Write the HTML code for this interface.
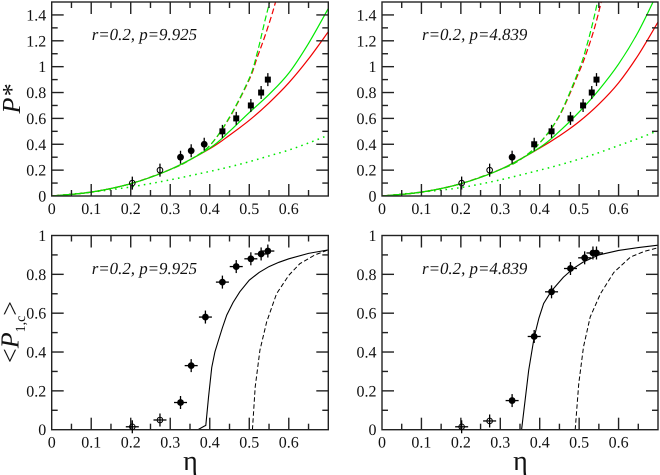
<!DOCTYPE html>
<html>
<head>
<meta charset="utf-8">
<style>
html,body{margin:0;padding:0;background:#fff;width:660px;height:475px;overflow:hidden}
svg{display:block;filter:blur(0.35px)}
text{font-family:"Liberation Serif",serif;fill:#111;text-rendering:geometricPrecision}
</style>
</head>
<body>
<svg id="chart" width="660" height="475" viewBox="0 0 660 475" xmlns="http://www.w3.org/2000/svg"></svg>
<script>
// Shared data
const tlEta = [0.204,0.274,0.326,0.353,0.386,0.432,0.467,0.504,0.530,0.547];
const tlVal = [0.1,0.2,0.3,0.35,0.4,0.5,0.6,0.7,0.8,0.9];
const tlKind = ['open','open','circle','circle','circle','square','square','square','square','square'];
const trEta = [0.202,0.273,0.33,0.386,0.43,0.478,0.51,0.532,0.544];
const trVal = [0.1,0.2,0.3,0.4,0.5,0.6,0.7,0.8,0.9];
const trKind = ['open','open','circle','square','square','square','square','square','square'];
const blEta = [0.204,0.274,0.326,0.353,0.389,0.432,0.467,0.504,0.530,0.547];
const blVal = [0.015,0.05,0.14,0.33,0.58,0.76,0.84,0.88,0.905,0.92];
const brEta = [0.202,0.273,0.33,0.386,0.43,0.478,0.514,0.535,0.544];
const brVal = [0.015,0.045,0.15,0.48,0.71,0.83,0.885,0.91,0.91];

// Top-left curves
const tlGridEta = [0,0.1,0.2,0.3,0.4,0.45,0.5,0.55,0.6,0.65,0.7];
const tlRedSolid = [0,0.03,0.095,0.205,0.365,0.47,0.585,0.72,0.875,1.06,1.27];
const tlGreenSolid = [0,0.03,0.095,0.205,0.37,0.5,0.645,0.785,0.95,1.18,1.45];
const tlDashEta = [0,0.1,0.2,0.3,0.35,0.4,0.45,0.5,0.52,0.54,0.56,0.575];
const tlRedDash = [0,0.03,0.095,0.205,0.28,0.39,0.605,0.9,1.07,1.24,1.43,1.6];
const tlGreenDash = [0,0.03,0.095,0.205,0.28,0.39,0.61,0.91,1.105,1.36,1.6,1.8];
const tlDotted = [0,0.03,0.07,0.125,0.19,0.225,0.265,0.31,0.355,0.41,0.47];

// Top-right curves
const trRedSolid = [0,0.03,0.095,0.205,0.37,0.465,0.575,0.71,0.875,1.09,1.345];
const trGreenSolid = [0,0.03,0.095,0.205,0.375,0.5,0.65,0.82,1.02,1.27,1.58];
const trRedDash = [0,0.03,0.095,0.205,0.28,0.41,0.62,0.96,1.12,1.31,1.55,1.75];
const trGreenDash = [0,0.03,0.095,0.205,0.28,0.41,0.625,0.98,1.17,1.41,1.7,1.95];
const trDotted = [0,0.03,0.065,0.125,0.2,0.24,0.285,0.335,0.39,0.445,0.505];

// Bottom-left curves
const blSolidEta = [0,0.37,0.385,0.39,0.397,0.405,0.413,0.422,0.432,0.443,0.459,0.476,0.5,0.525,0.55,0.575,0.6,0.65,0.7];
const blSolidVal = [0,0,0.017,0.022,0.17,0.32,0.40,0.46,0.525,0.59,0.655,0.71,0.77,0.81,0.84,0.862,0.88,0.908,0.926];
const blDashEta = [0.508,0.515,0.527,0.544,0.569,0.6,0.628,0.666,0.7];
const blDashVal = [0,0.22,0.41,0.555,0.70,0.795,0.855,0.90,0.926];

// Bottom-right curves
const brSolidEta = [0,0.354,0.372,0.386,0.398,0.41,0.43,0.46,0.485,0.51,0.55,0.6,0.65,0.7];
const brSolidVal = [0,0,0.305,0.477,0.575,0.65,0.715,0.785,0.83,0.863,0.9,0.923,0.938,0.95];
const brDashEta = [0.49,0.499,0.511,0.528,0.554,0.588,0.63,0.665,0.7];
const brDashVal = [0,0.237,0.426,0.58,0.70,0.81,0.889,0.918,0.937];

// Tick labels
const xTickLabels = ['0','0.1','0.2','0.3','0.4','0.5','0.6'];
const topYTickLabels = ['0','0.2','0.4','0.6','0.8','1','1.2','1.4'];
const botYTickLabels = ['0','0.2','0.4','0.6','0.8','1'];

const NS = 'http://www.w3.org/2000/svg';
const root = document.getElementById('chart');
const RED = '#f00000';
const GREEN = '#00e800';
let clipCount = 0;

function make(tag, parent, attrs) {
  const el = document.createElementNS(NS, tag);
  for (const k in attrs) el.setAttribute(k, attrs[k]);
  parent.appendChild(el);
  return el;
}

function panel(name, box, yMax, yMajor, yLabels, note, noteY) {
  const g = make('g', root, {});
  
  
  const sx = v => box.x0 + v / 0.7 * (box.x1 - box.x0);
  const sy = v => box.y0 - v / yMax * (box.y0 - box.y1);
  const id = 'clip' + (clipCount++);
  const cp = make('clipPath', g, {id: id});
  make('rect', cp, {x: box.x0, y: box.y1, width: box.x1 - box.x0, height: box.y0 - box.y1});
  const plot = make('g', g, {'clip-path': 'url(#' + id + ')'});
  
  
  const axes = make('g', g, {stroke: '#222', 'stroke-width': 1.4, fill: 'none'});
  
  
  make('rect', axes, {x: box.x0, y: box.y1, width: box.x1 - box.x0, height: box.y0 - box.y1});
  for (let i = 1; i < 14; i++) {
    const x = sx(i * 0.05);
    const len = i % 2 === 0 ? 12 : 6;
    make('line', axes, {x1: x, x2: x, y1: box.y0, y2: box.y0 - len});
    make('line', axes, {x1: x, x2: x, y1: box.y1, y2: box.y1 + len});
  }
  const nMinor = Math.floor(yMax / (yMajor / 2) + 1e-6);
  for (let i = 1; i <= nMinor; i++) {
    const y = sy(i * yMajor / 2);
    if (y <= box.y1 + 0.5) continue;
    const len = i % 2 === 0 ? 12 : 6;
    make('line', axes, {x1: box.x0, x2: box.x0 + len, y1: y, y2: y});
    make('line', axes, {x1: box.x1, x2: box.x1 - len, y1: y, y2: y});
  }
  xTickLabels.forEach((t, i) => {
    const el = make('text', g, {x: sx(i * 0.1), y: box.y0 + 18, 'text-anchor': 'middle', 'font-size': 16});
    
    
    el.textContent = t;
  });
  yLabels.forEach((t, i) => {
    const el = make('text', g, {x: box.x0 - 5.5, y: sy(i * yMajor) + 5.5, 'text-anchor': 'end', 'font-size': 16});
    
    
    el.textContent = t;
  });
  const n = make('text', g, {x: box.x0 + 40, y: noteY, 'font-size': 16.9, 'font-style': 'italic'});
  
  
  n.textContent = note;
  return {plot, sx, sy};
}

function smoothPath(pts) {
  let d = 'M' + pts[0][0].toFixed(2) + ' ' + pts[0][1].toFixed(2);
  for (let i = 0; i < pts.length - 1; i++) {
    const p0 = pts[Math.max(i - 1, 0)], p1 = pts[i], p2 = pts[i + 1], p3 = pts[Math.min(i + 2, pts.length - 1)];
    d += ' C' + (p1[0] + (p2[0] - p0[0]) / 6).toFixed(2) + ' ' + (p1[1] + (p2[1] - p0[1]) / 6).toFixed(2) +
         ' ' + (p2[0] - (p3[0] - p1[0]) / 6).toFixed(2) + ' ' + (p2[1] - (p3[1] - p1[1]) / 6).toFixed(2) +
         ' ' + p2[0].toFixed(2) + ' ' + p2[1].toFixed(2);
  }
  return d;
}

function curve(p, xs, ys, color, dash, name, width, linear) {
  const pts = xs.map((x, i) => [p.sx(x), p.sy(ys[i])]);
  const d = linear ? 'M' + pts.map(q => q[0].toFixed(2) + ' ' + q[1].toFixed(2)).join(' L') : smoothPath(pts);
  const attrs = {d: d, fill: 'none', stroke: color, 'stroke-width': width};
  if (dash) attrs['stroke-dasharray'] = dash;
  const el = make('path', p.plot, attrs);
  
  
}

function points(p, xs, ys, kinds, xErrPx, yErrPx, size, host) {
  xs.forEach((x, i) => {
    const cx = p.sx(x), cy = p.sy(ys[i]);
    const g = make('g', host, {});
    
    
    make('line', g, {x1: cx, x2: cx, y1: cy - yErrPx, y2: cy + yErrPx, stroke: '#000', 'stroke-width': 1.3});
    if (xErrPx) make('line', g, {x1: cx - xErrPx, x2: cx + xErrPx, y1: cy, y2: cy, stroke: '#000', 'stroke-width': 1.3});
    const k = kinds[i];
    if (k === 'square') {
      make('rect', g, {x: cx - size, y: cy - size, width: 2 * size, height: 2 * size, fill: '#000'});
    } else if (k === 'circle') {
      make('circle', g, {cx: cx, cy: cy, r: size + 0.4, fill: '#000'});
    } else {
      make('circle', g, {cx: cx, cy: cy, r: size - 0.2, fill: 'none', stroke: '#000', 'stroke-width': 1});
    }
  });
}

const topLeft = {x0: 51.7, x1: 328.3, y0: 196, y1: 2};
const topRight = {x0: 382, x1: 658, y0: 196, y1: 2};
const botLeft = {x0: 51.7, x1: 328.3, y0: 429.7, y1: 235.5};
const botRight = {x0: 382, x1: 658, y0: 429.7, y1: 235.5};

const p1 = panel('pressure-panel-p9925', topLeft, 1.5, 0.2, topYTickLabels, 'r=0.2, p=9.925', 40);
curve(p1, tlGridEta, tlDotted, GREEN, '1.6 4.2', 'green-dotted-curve', 1.5);
curve(p1, tlDashEta, tlRedDash, RED, '6 3', 'red-dashed-curve', 1.2);
curve(p1, tlDashEta, tlGreenDash, GREEN, '6 3', 'green-dashed-curve', 1.2);
curve(p1, tlGridEta, tlRedSolid, RED, null, 'red-solid-curve', 1.2);
curve(p1, tlGridEta, tlGreenSolid, GREEN, null, 'green-solid-curve', 1.2);
points(p1, tlEta, tlVal, tlKind, 0, 6.5, 3, p1.plot);

const p2 = panel('pressure-panel-p4839', topRight, 1.5, 0.2, topYTickLabels, 'r=0.2, p=4.839', 40);
curve(p2, tlGridEta, trDotted, GREEN, '1.6 4.2', 'green-dotted-curve', 1.5);
curve(p2, tlDashEta, trRedDash, RED, '6 3', 'red-dashed-curve', 1.2);
curve(p2, tlDashEta, trGreenDash, GREEN, '6 3', 'green-dashed-curve', 1.2);
curve(p2, tlGridEta, trRedSolid, RED, null, 'red-solid-curve', 1.2);
curve(p2, tlGridEta, trGreenSolid, GREEN, null, 'green-solid-curve', 1.2);
points(p2, trEta, trVal, trKind, 0, 6.5, 3, p2.plot);

const blKind = tlKind.map(k => k === 'open' ? 'open' : 'circle');
const brKind = trKind.map(k => k === 'open' ? 'open' : 'circle');

const p3 = panel('fraction-panel-p9925', botLeft, 1, 0.2, botYTickLabels, 'r=0.2, p=9.925', 274);
curve(p3, blSolidEta, blSolidVal, '#000', null, 'solid-curve', 1.1, true);
curve(p3, blDashEta, blDashVal, '#000', '4.5 2.5', 'dashed-curve', 1.0, true);
points(p3, blEta, blVal, blKind, 6.5, 6.5, 3, root);

const p4 = panel('fraction-panel-p4839', botRight, 1, 0.2, botYTickLabels, 'r=0.2, p=4.839', 274);
curve(p4, brSolidEta, brSolidVal, '#000', null, 'solid-curve', 1.1, true);
curve(p4, brDashEta, brDashVal, '#000', '4.5 2.5', 'dashed-curve', 1.0, true);
points(p4, brEta, brVal, brKind, 6.5, 6.5, 3, root);
</script>
<svg width="660" height="475" viewBox="0 0 660 475" style="position:absolute;left:0;top:0" xmlns="http://www.w3.org/2000/svg">
  <text transform="translate(20,99) rotate(-90)" font-size="26" font-style="italic" text-anchor="middle">P*</text>
  <text transform="translate(18.5,332) rotate(-90)" font-size="26" text-anchor="middle">&lt;<tspan font-style="italic">P</tspan><tspan font-size="14" dy="6.5">1,c</tspan><tspan dy="-6.5">&gt;</tspan></text>
  <text x="190.5" y="470" font-size="28" text-anchor="middle">η</text>
  <text x="520.5" y="470" font-size="28" text-anchor="middle">η</text>
</svg>
</body>
</html>
